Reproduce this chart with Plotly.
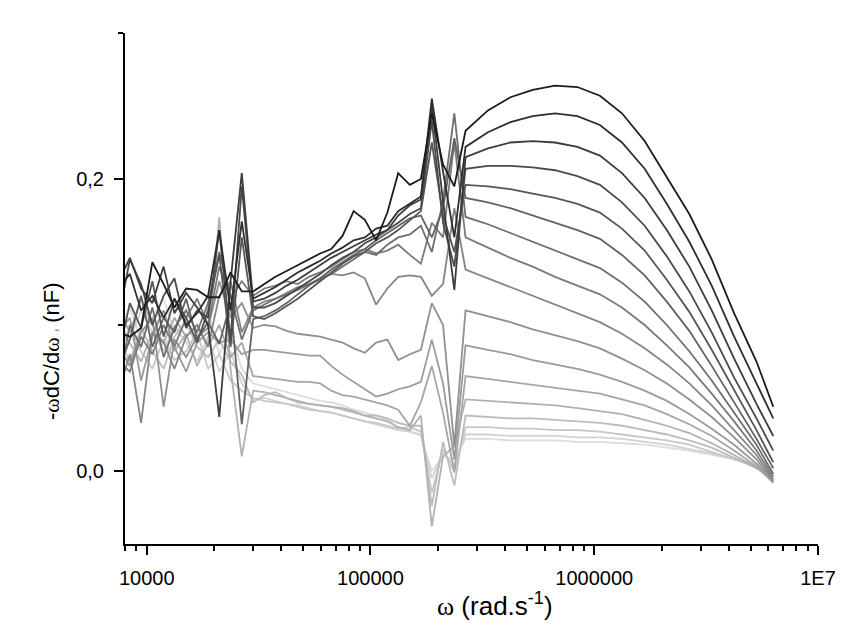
import plotly.graph_objects as go

# angular frequency (rad/s)
omega = [7500, 8410, 9440, 10600, 11900, 13300, 15000, 16800, 18800, 21100,
         23700, 26600, 29900, 33500, 37600, 42200, 47300, 53100, 59600, 66800,
         75000, 84100, 94400, 106000, 119000, 133000, 150000, 168000, 188000, 211000,
         237000, 266000, 335000, 422000, 531000, 668000, 841000, 1060000, 1330000, 1680000,
         2110000, 2660000, 3350000, 4220000, 5310000, 6310000]

# -omega dC/domega (nF), darkest (c01) to lightest (c17)
c01 = [0.095,0.092,0.098,0.143,0.128,0.112,0.125,0.124,0.119,0.119,0.136,0.123,0.123,0.128,0.133,0.137,0.141,0.145,0.149,0.152,0.161,0.178,0.172,0.158,0.177,0.204,0.196,0.200,0.245,0.210,0.195,
       0.233,0.247,0.256,0.261,0.264,0.263,0.257,0.245,0.226,0.201,0.176,0.145,0.108,0.075,0.044]
c02 = [0.125,0.135,0.110,0.120,0.105,0.118,0.100,0.108,0.120,0.165,0.110,0.171,0.118,0.122,0.126,0.131,0.136,0.140,0.144,0.149,0.153,0.158,0.160,0.166,0.168,0.178,0.183,0.188,0.255,0.205,0.160,
       0.222,0.232,0.239,0.243,0.245,0.243,0.237,0.225,0.207,0.183,0.157,0.127,0.092,0.060,0.036]
c03 = [0.130,0.146,0.125,0.115,0.140,0.108,0.122,0.112,0.100,0.037,0.130,0.204,0.116,0.118,0.122,0.127,0.131,0.136,0.141,0.146,0.150,0.154,0.158,0.162,0.165,0.175,0.182,0.186,0.250,0.185,0.124,
       0.215,0.221,0.225,0.226,0.225,0.222,0.216,0.204,0.187,0.165,0.140,0.110,0.077,0.046,0.024]
c04 = [0.105,0.145,0.128,0.100,0.120,0.132,0.098,0.110,0.105,0.165,0.090,0.195,0.112,0.112,0.115,0.120,0.125,0.130,0.135,0.141,0.146,0.150,0.156,0.160,0.165,0.170,0.176,0.180,0.240,0.170,0.140,
       0.207,0.209,0.209,0.208,0.206,0.202,0.196,0.184,0.168,0.147,0.123,0.095,0.064,0.036,0.014]
c05 = [0.080,0.115,0.098,0.130,0.092,0.118,0.105,0.088,0.110,0.148,0.085,0.160,0.106,0.104,0.108,0.113,0.118,0.124,0.130,0.136,0.142,0.147,0.150,0.156,0.160,0.165,0.172,0.178,0.225,0.175,0.150,
       0.196,0.195,0.193,0.190,0.187,0.183,0.177,0.166,0.151,0.131,0.109,0.083,0.055,0.028,0.006]
c06 = [0.070,0.090,0.120,0.085,0.105,0.095,0.118,0.090,0.102,0.087,0.115,0.032,0.104,0.106,0.110,0.115,0.121,0.127,0.132,0.138,0.143,0.148,0.152,0.158,0.163,0.168,0.173,0.175,0.160,0.180,0.228,
       0.187,0.184,0.180,0.175,0.170,0.165,0.159,0.148,0.134,0.116,0.096,0.072,0.047,0.022,0.002]
c07 = [0.060,0.100,0.085,0.112,0.078,0.098,0.110,0.095,0.115,0.150,0.120,0.090,0.110,0.114,0.118,0.121,0.124,0.128,0.131,0.135,0.140,0.145,0.150,0.148,0.155,0.160,0.162,0.168,0.150,0.185,0.245,
       0.174,0.169,0.163,0.157,0.151,0.145,0.139,0.129,0.116,0.100,0.082,0.062,0.040,0.018,-0.002]
c08 = [0.075,0.068,0.092,0.080,0.100,0.085,0.105,0.118,0.100,0.140,0.118,0.130,0.120,0.125,0.127,0.130,0.128,0.133,0.136,0.140,0.145,0.150,0.152,0.149,0.151,0.155,0.148,0.142,0.170,0.160,0.225,
       0.160,0.153,0.146,0.140,0.133,0.127,0.121,0.112,0.100,0.086,0.071,0.053,0.034,0.014,-0.004]
c09 = [0.055,0.080,0.033,0.095,0.088,0.070,0.092,0.100,0.085,0.120,0.130,0.095,0.112,0.116,0.118,0.122,0.126,0.128,0.132,0.135,0.134,0.136,0.132,0.114,0.125,0.133,0.134,0.133,0.120,0.128,0.180,
       0.138,0.132,0.126,0.120,0.114,0.108,0.102,0.094,0.084,0.073,0.060,0.045,0.028,0.011,-0.006]
c10 = [0.085,0.072,0.095,0.105,0.044,0.090,0.078,0.092,0.098,0.130,0.105,0.115,0.098,0.100,0.099,0.096,0.094,0.093,0.092,0.090,0.088,0.084,0.081,0.088,0.090,0.076,0.080,0.083,0.115,0.100,0.017,
       0.110,0.106,0.102,0.097,0.093,0.089,0.084,0.077,0.069,0.060,0.049,0.037,0.023,0.008,-0.007]
c11 = [0.095,0.105,0.062,0.092,0.110,0.085,0.068,0.088,0.095,0.088,0.090,0.080,0.083,0.083,0.082,0.081,0.080,0.079,0.079,0.072,0.066,0.061,0.056,0.051,0.053,0.056,0.058,0.061,0.090,0.060,0.008,
       0.086,0.083,0.080,0.076,0.073,0.070,0.066,0.061,0.055,0.048,0.039,0.029,0.018,0.005,-0.008]
c12 = [0.110,0.095,0.118,0.100,0.088,0.105,0.092,0.100,0.085,0.100,0.078,0.088,0.065,0.064,0.063,0.062,0.061,0.061,0.060,0.055,0.052,0.051,0.049,0.047,0.045,0.042,0.031,0.047,0.072,0.040,-0.001,
       0.065,0.063,0.061,0.059,0.057,0.055,0.053,0.049,0.045,0.039,0.032,0.024,0.014,0.003,-0.008]
c13 = [0.100,0.088,0.075,0.095,0.110,0.082,0.094,0.072,0.088,0.174,0.070,0.010,0.055,0.054,0.052,0.050,0.048,0.046,0.045,0.044,0.043,0.041,0.038,0.036,0.034,0.030,0.028,0.038,-0.038,0.010,0.017,
       0.049,0.048,0.047,0.046,0.045,0.043,0.041,0.039,0.035,0.031,0.026,0.019,0.011,0.002,-0.006]
c14 = [0.090,0.075,0.098,0.082,0.070,0.092,0.102,0.085,0.078,0.090,0.075,0.066,0.047,0.052,0.054,0.050,0.047,0.046,0.045,0.044,0.042,0.040,0.038,0.038,0.036,0.033,0.031,0.031,-0.024,0.020,-0.010,
       0.038,0.037,0.036,0.036,0.035,0.034,0.033,0.031,0.028,0.025,0.021,0.016,0.009,0.002,-0.004]
c15 = [0.080,0.098,0.082,0.070,0.090,0.076,0.082,0.095,0.070,0.080,0.062,0.055,0.050,0.048,0.047,0.046,0.044,0.042,0.041,0.040,0.038,0.036,0.034,0.033,0.031,0.029,0.030,0.027,-0.015,0.015,0.000,
       0.030,0.030,0.029,0.029,0.028,0.028,0.027,0.025,0.023,0.021,0.018,0.013,0.008,0.003,-0.002]
c16 = [0.102,0.090,0.110,0.095,0.082,0.100,0.088,0.075,0.092,0.068,0.082,0.060,0.049,0.050,0.048,0.046,0.045,0.043,0.041,0.040,0.038,0.036,0.034,0.032,0.030,0.028,0.027,0.025,-0.005,0.012,0.005,
       0.025,0.025,0.024,0.024,0.024,0.023,0.023,0.022,0.020,0.018,0.015,0.012,0.008,0.004,0.000]
c17 = [0.098,0.112,0.090,0.105,0.118,0.095,0.100,0.088,0.110,0.080,0.095,0.070,0.060,0.058,0.056,0.054,0.052,0.050,0.048,0.047,0.045,0.042,0.040,0.038,0.035,0.030,0.027,0.024,0.000,0.010,0.008,
       0.022,0.022,0.021,0.021,0.021,0.020,0.020,0.019,0.018,0.016,0.014,0.011,0.008,0.005,0.002]

series = [c01, c02, c03, c04, c05, c06, c07, c08, c09, c10, c11, c12, c13, c14, c15, c16, c17]
colors = ["#1c1c1c", "#2e2e2e", "#3c3c3c", "#4a4a4a", "#565656", "#626262", "#6e6e6e", "#7a7a7a",
          "#858585", "#909090", "#9b9b9b", "#a6a6a6", "#b1b1b1", "#bcbcbc", "#c7c7c7", "#d2d2d2", "#dcdcdc"]

x_tickvals = [1e4, 1e5, 1e6, 1e7]
x_ticktext = ["10000", "100000", "1000000", "1E7"]
x_minor = [8000, 9000, 20000, 30000, 40000, 50000, 60000, 70000, 80000, 90000,
           200000, 300000, 400000, 500000, 600000, 700000, 800000, 900000,
           2e6, 3e6, 4e6, 5e6, 6e6, 7e6, 8e6, 9e6]
y_tickvals = [0.0, 0.2]
y_ticktext = ["0,0", "0,2"]
y_minor = [0.1, 0.3]

fig = go.Figure()
for ys, col in reversed(list(zip(series, colors))):
    fig.add_trace(go.Scatter(x=omega, y=ys, mode="lines",
                             line=dict(color=col, width=1.8), showlegend=False,
                             hoverinfo="skip"))

font = "Liberation Sans, Arial, sans-serif"
fig.update_layout(
    width=845, height=626,
    margin=dict(l=125, r=27, t=33, b=82, autoexpand=False),
    paper_bgcolor="white", plot_bgcolor="white",
    font=dict(family=font, color="black"),
    showlegend=False,
)
fig.update_xaxes(
    type="log", range=[3.903, 7.0], automargin=False,
    showline=True, linecolor="black", linewidth=2, mirror=False,
    showgrid=False, zeroline=False,
    tickmode="array", tickvals=x_tickvals, ticktext=x_ticktext,
    ticks="outside", ticklen=9, tickwidth=2, tickcolor="black",
    tickfont=dict(size=20, family=font, color="black"),
    ticklabelstandoff=6,
    minor=dict(tickmode="array", tickvals=x_minor, ticks="outside",
               ticklen=5, tickwidth=1.5, tickcolor="black", showgrid=False),
)
fig.update_yaxes(
    range=[-0.05, 0.3], automargin=False,
    showline=True, linecolor="black", linewidth=2, mirror=False,
    showgrid=False, zeroline=False,
    tickmode="array", tickvals=y_tickvals, ticktext=y_ticktext,
    ticks="outside", ticklen=9, tickwidth=2, tickcolor="black",
    tickfont=dict(size=20, family=font, color="black"),
    ticklabelstandoff=6,
    minor=dict(tickmode="array", tickvals=y_minor, ticks="outside",
               ticklen=5, tickwidth=1.5, tickcolor="black", showgrid=False),
)

fig.add_annotation(
    text="<span style='font-family:Liberation Serif'>ω</span> (rad.s<sup>-1</sup>)",
    xref="paper", yref="paper", x=0.534, y=-0.119,
    xanchor="center", yanchor="middle", showarrow=False,
    font=dict(size=26, family=font, color="black"),
)
fig.add_annotation(
    text="-<span style='font-family:Liberation Serif'>ω</span>dC/d<span style='font-family:Liberation Serif'>ω</span> <span style='font-size:8px'>ı</span> (nF)",
    xref="paper", yref="paper", x=-0.105, y=0.378,
    xanchor="center", yanchor="middle", showarrow=False, textangle=-90,
    font=dict(size=22, family=font, color="black"),
)

fig.write_html("out.html", config={"displayModeBar": False},
               post_script="document.body.style.margin='0px';")
